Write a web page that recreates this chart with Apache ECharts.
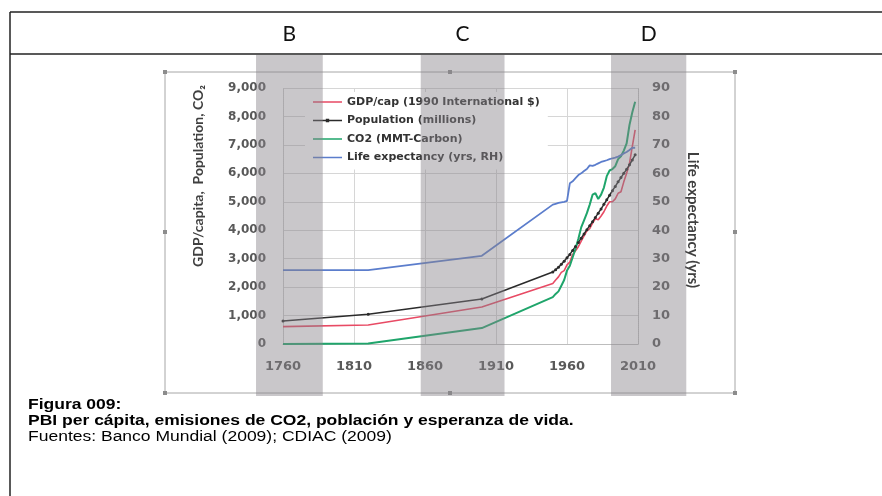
<!DOCTYPE html>
<html>
<head>
<meta charset="utf-8">
<script src="https://cdn.jsdelivr.net/npm/echarts@6/dist/echarts.min.js"></script>
<style>
  html, body { margin: 0; padding: 0; background: #fff; }
  #chart { width: 882px; height: 496px; }
</style>
</head>
<body>
<div id="chart"></div>
<script>
// years with data (a few early benchmarks, then every 2 years)
const years = [1760, 1820, 1900,
  1950, 1952, 1954, 1956, 1958, 1960, 1962, 1964, 1966, 1968, 1970, 1972, 1974, 1976, 1978,
  1980, 1982, 1984, 1986, 1988, 1990, 1992, 1994, 1996, 1998, 2000, 2002, 2004, 2006, 2008];
const gdpPerCapita = [610, 668, 1300,
  2130, 2250, 2360, 2520, 2580, 2780, 2880, 3150, 3280, 3420, 3620, 3800, 3980, 4060, 4250,
  4400, 4370, 4500, 4650, 4850, 5000, 5000, 5100, 5300, 5350, 5700, 6000, 6350, 6950, 7530];
const population = [810, 1045, 1580,
  2530, 2610, 2700, 2800, 2910, 3030, 3150, 3290, 3430, 3570, 3720, 3870, 4020, 4160, 4300,
  4450, 4600, 4750, 4910, 5070, 5230, 5390, 5540, 5700, 5850, 6000, 6140, 6300, 6470, 6650];
const co2 = [3, 14, 560,
  1650, 1760, 1850, 2050, 2250, 2580, 2750, 3050, 3350, 3700, 4100, 4350, 4600, 4900, 5250,
  5300, 5100, 5250, 5500, 5900, 6100, 6150, 6250, 6500, 6600, 6800, 7050, 7700, 8150, 8520];
const lifeExpectancy = [26, 26, 31,
  49, 49.3, 49.6, 49.8, 50, 50.3, 56.5, 57.2, 58.3, 59.4, 60, 60.8, 61.5, 62.8, 62.6,
  63, 63.5, 64, 64.3, 64.6, 65, 65.3, 65.5, 65.9, 66.4, 67, 67.5, 68.2, 69, 69];

const seriesNames = ['GDP/cap (1990 International $)', 'Population (millions)', 'CO2 (MMT-Carbon)', 'Life expectancy (yrs, RH)'];

// shaded periods (years) and their letters
const bandFrom = [1741, 1857, 1991];
const bandTo = [1788, 1916, 2044];
const bandNames = ['B', 'C', 'D'];

const captionLines = [
  'Figura 009:',
  'PBI per cápita, emisiones de CO2, población y esperanza de vida.',
  'Fuentes: Banco Mundial (2009); CDIAC (2009)'
];

const pairs = arr => years.map((y, i) => [y, arr[i]]);

// legend icons: a thin line (tiny corner specks keep the box 29x12 so it isn't stretched)
const boxKeep = 'M0,0L0.01,0L0.01,0.01Z M0,12L0.01,12L0.01,11.99Z ';
const lineIcon = 'path://' + boxKeep + 'M0,5.2L29,5.2L29,6.8L0,6.8Z';
const markerIcon = 'path://' + boxKeep + 'M0,5.3L29,5.3L29,6.7L0,6.7Z M12.8,4.3L16.2,4.3L16.2,7.7L12.8,7.7Z';

const chart = echarts.init(document.getElementById('chart'));

const tickLabel = {
  fontFamily: 'DejaVu Sans',
  fontWeight: 'bold',
  color: '#595959'
};

const option = {
  animation: false,
  grid: {
    left: 283,
    right: 244,
    top: 88,
    bottom: 152,
    containLabel: false,
    outerBoundsMode: 'none'
  },
  legend: {
    orient: 'vertical',
    left: 305,
    top: 92,
    padding: [4, 8, 6, 8],
    backgroundColor: '#fff',
    itemWidth: 29,
    itemHeight: 12,
    itemGap: 6.5,
    data: seriesNames.map((n, i) => ({ name: n, icon: i === 1 ? markerIcon : lineIcon })),
    textStyle: {
      fontFamily: 'DejaVu Sans',
      fontWeight: 'bold',
      fontSize: 11,
      lineHeight: 12,
      color: '#333'
    }
  },
  xAxis: {
    type: 'value',
    min: 1760,
    max: 2010,
    interval: 50,
    axisLine: { lineStyle: { color: '#bdbdbd' } },
    axisTick: { show: false },
    splitLine: { show: true, lineStyle: { color: '#d6d6d6' } },
    axisLabel: { ...tickLabel, fontSize: 13, margin: 16, formatter: v => String(v) }
  },
  yAxis: [
    {
      type: 'value',
      min: 0,
      max: 9000,
      interval: 1000,
      position: 'left',
      axisLine: { show: true, lineStyle: { color: '#c8c8c8', type: 'dotted' } },
      axisTick: { show: false },
      splitLine: { lineStyle: { color: '#d6d6d6' } },
      axisLabel: { ...tickLabel, fontSize: 12, margin: 17, formatter: v => v.toLocaleString('en-US') }
    },
    {
      type: 'value',
      min: 0,
      max: 90,
      interval: 10,
      position: 'right',
      axisLine: { show: true, lineStyle: { color: '#bdbdbd', type: 'dotted' } },
      axisTick: { show: false },
      splitLine: { show: false },
      axisLabel: { ...tickLabel, fontSize: 13, margin: 14 }
    }
  ],
  series: [
    {
      name: seriesNames[0],
      type: 'line',
      data: pairs(gdpPerCapita),
      symbol: 'none',
      itemStyle: { color: '#e84a64' },
      lineStyle: { color: '#e84a64', width: 1.6 }
    },
    {
      name: seriesNames[1],
      type: 'line',
      data: pairs(population),
      symbol: 'circle',
      symbolSize: 3,
      itemStyle: { color: '#2b2b2b' },
      lineStyle: { color: '#2b2b2b', width: 1.5 }
    },
    {
      name: seriesNames[2],
      type: 'line',
      data: pairs(co2),
      symbol: 'none',
      itemStyle: { color: '#1fa56b' },
      lineStyle: { color: '#1fa56b', width: 2 }
    },
    {
      name: seriesNames[3],
      type: 'line',
      yAxisIndex: 1,
      data: pairs(lifeExpectancy),
      symbol: 'none',
      itemStyle: { color: '#5b7dcc' },
      lineStyle: { color: '#5b7dcc', width: 1.8 }
    }
  ]
};

chart.setOption(option);

// decorations: page frame, pasted-chart frame, titles, shaded bands, caption
const graphic = [];

// outer table-like frame
graphic.push(
  { type: 'line', shape: { x1: 10, y1: 12, x2: 882, y2: 12 }, style: { stroke: '#222', lineWidth: 1.5 } },
  { type: 'line', shape: { x1: 10, y1: 54, x2: 882, y2: 54 }, style: { stroke: '#222', lineWidth: 1.5 } },
  { type: 'line', shape: { x1: 10, y1: 12, x2: 10, y2: 496 }, style: { stroke: '#222', lineWidth: 1.5 } }
);

// frame of the pasted chart with its handles
graphic.push({
  type: 'rect', shape: { x: 165, y: 72, width: 570, height: 321 },
  style: { fill: null, stroke: '#a6a6a6', lineWidth: 1 }, z: 1
});
[[165, 72], [450, 72], [735, 72], [165, 232], [735, 232], [165, 393], [450, 393], [735, 393]].forEach(p => {
  graphic.push({ type: 'rect', shape: { x: p[0] - 2, y: p[1] - 2, width: 4, height: 4 }, style: { fill: '#8c8c8c' }, z: 1 });
});

// axis titles
graphic.push(
  {
    type: 'text', x: 198, y: 176, rotation: Math.PI / 2,
    style: { text: 'GDP/capita,  Population, CO₂', fontFamily: 'Lato', fontWeight: 'bold', fontSize: 14, fill: '#404040', align: 'center', verticalAlign: 'middle' }
  },
  {
    type: 'text', x: 693, y: 220, rotation: -Math.PI / 2,
    style: { text: 'Life expectancy (yrs)', fontFamily: 'Lato', fontWeight: 'bold', fontSize: 15, fill: '#404040', align: 'center', verticalAlign: 'middle' }
  }
);

// shaded periods, placed through the x axis scale
bandNames.forEach((name, i) => {
  const x0 = chart.convertToPixel({ xAxisIndex: 0 }, bandFrom[i]);
  const x1 = chart.convertToPixel({ xAxisIndex: 0 }, bandTo[i]);
  graphic.push({
    type: 'rect', silent: true, z: 100,
    shape: { x: x0, y: 55, width: x1 - x0, height: 341 },
    style: { fill: 'rgba(135,130,138,0.45)' }
  });
  graphic.push({
    type: 'text', x: (x0 + x1) / 2, y: 34,
    style: { text: name, fontFamily: 'Lato', fontSize: 21, fill: '#111', align: 'center', verticalAlign: 'middle' }
  });
});

// caption
captionLines.forEach((line, i) => {
  graphic.push({
    type: 'text', x: 28, y: 405 + i * 16, scaleX: 1.25,
    style: {
      text: line, fontFamily: 'Liberation Sans', fontSize: 14,
      fontWeight: i < 2 ? 'bold' : 'normal', fill: '#000',
      align: 'left', verticalAlign: 'middle'
    }
  });
});

chart.setOption({ graphic: graphic });
</script>
</body>
</html>
